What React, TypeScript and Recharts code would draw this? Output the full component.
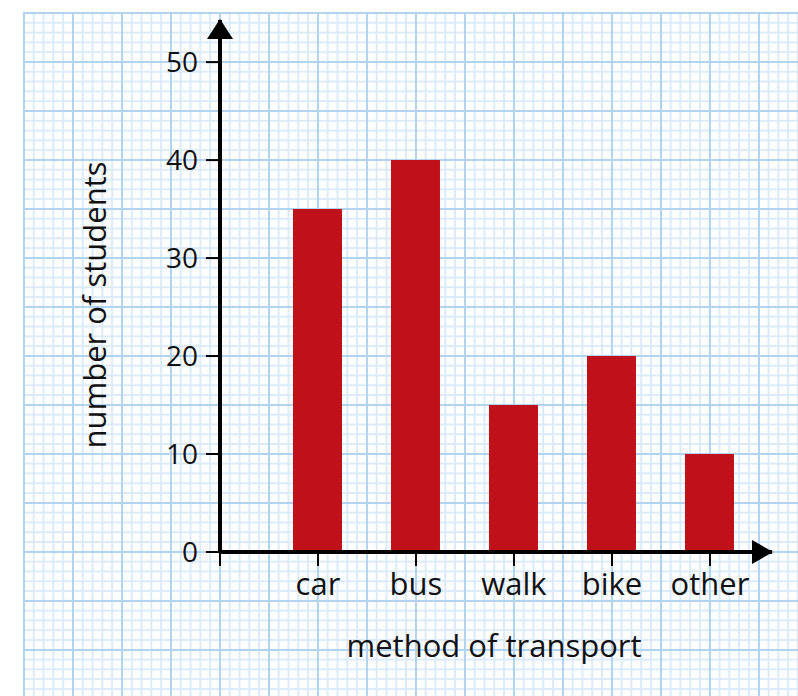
import React from 'react';
import { BarChart, Bar, XAxis, YAxis } from 'recharts';

const methods = ['car', 'bus', 'walk', 'bike', 'other'];
const students = [35, 40, 15, 20, 10];
const yTicks = [0, 10, 20, 30, 40, 50];
const xTicks = [0, 1, 2, 3, 4, 5];

const data = methods.map((m, i) => ({ x: i + 1, method: m, students: students[i] }));

const FONT = '"Open Sans", "Noto Sans", sans-serif';
const INK = '#111';

// graph paper: big squares 49px, small squares 9.8px
const paper: React.CSSProperties = {
  position: 'absolute',
  left: 23,
  top: 12,
  width: 775,
  height: 684,
  backgroundColor: '#fff',
  backgroundImage: [
    'linear-gradient(to right, #b2d4f1 0 2px, transparent 2px)',
    'linear-gradient(to bottom, #b2d4f1 0 2px, transparent 2px)',
    'linear-gradient(to right, #dbebf9 0 2px, transparent 2px)',
    'linear-gradient(to bottom, #dbebf9 0 2px, transparent 2px)',
  ].join(','),
  backgroundSize: '49px 49px, 49px 49px, 9.8px 9.8px, 9.8px 9.8px',
};

export default function App() {
  return (
    <div style={{ position: 'absolute', left: 0, top: 0, width: 798, height: 696, background: '#fff' }}>
      <div style={paper} />
      <div style={{ position: 'absolute', left: 0, top: 0 }}>
        <BarChart
          width={798}
          height={696}
          data={data}
          margin={{ top: 20, right: 26, bottom: 0, left: 0 }}
          style={{ fontFamily: FONT }}
        >
          <defs>
            <marker id="arrowUp" markerUnits="userSpaceOnUse" markerWidth={26} markerHeight={20}
              viewBox="0 0 26 20" refX={13} refY={1} orient="0">
              <path d="M13 0 L26 20 L0 20 Z" fill="#000" />
            </marker>
            <marker id="arrowRight" markerUnits="userSpaceOnUse" markerWidth={21} markerHeight={24}
              viewBox="0 0 21 24" refX={20} refY={12} orient="0">
              <path d="M0 0 L21 12 L0 24 Z" fill="#000" />
            </marker>
          </defs>
          <XAxis
            dataKey="x"
            type="number"
            domain={[0, 5.633]}
            ticks={xTicks}
            interval={0}
            height={144}
            tickSize={14}
            tickMargin={7}
            axisLine={{ stroke: '#000', strokeWidth: 4, markerEnd: 'url(#arrowRight)' }}
            tickLine={{ stroke: '#000', strokeWidth: 2 }}
            tick={{ fill: INK, fontSize: 31, fontFamily: FONT }}
            tickFormatter={(v: number) => (v >= 1 ? methods[v - 1] : '')}
            label={() => (
              <text x={494} y={657} textAnchor="middle" fill={INK} fontSize={31} fontFamily={FONT}>
                method of transport
              </text>
            )}
          />
          <YAxis
            type="number"
            domain={[0, 54.3]}
            ticks={yTicks}
            interval={0}
            width={220}
            tickSize={14}
            tickMargin={8}
            axisLine={{ stroke: '#000', strokeWidth: 4, markerStart: 'url(#arrowUp)' }}
            tickLine={{ stroke: '#000', strokeWidth: 2 }}
            tick={{ fill: INK, fontSize: 28, fontFamily: FONT }}
            label={() => (
              <text x={106} y={305} transform="rotate(-90 106 305)" textAnchor="middle"
                fill={INK} fontSize={31} fontFamily={FONT}>
                number of students
              </text>
            )}
          />
          <Bar dataKey="students" fill="#c0111b" barSize={49} isAnimationActive={false} />
        </BarChart>
      </div>
    </div>
  );
}
